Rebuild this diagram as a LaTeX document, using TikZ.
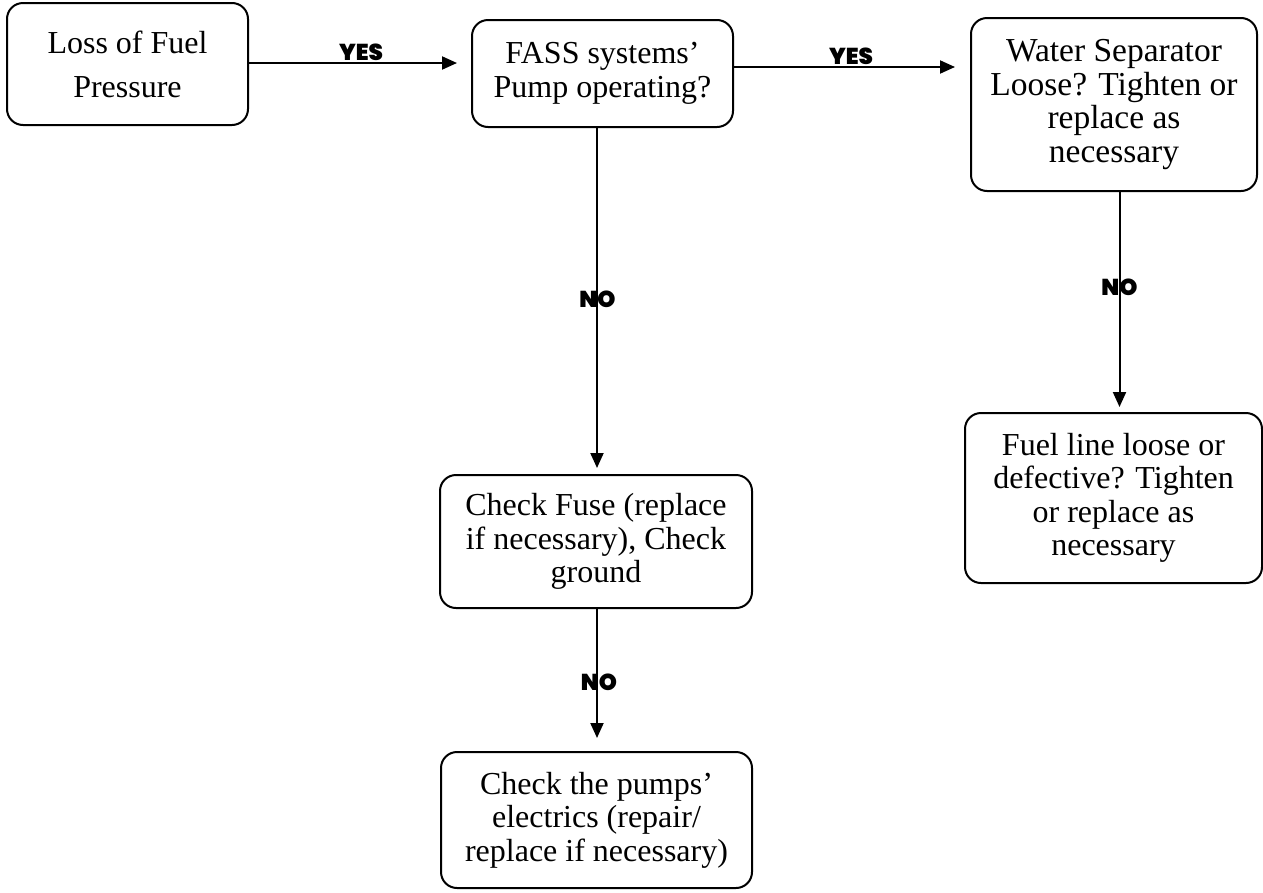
\documentclass[tikz,border=0pt]{standalone}
\usepackage{fontspec}
\setmainfont{Liberation Serif}
\newfontfamily\lab{Poppins Black}
\usetikzlibrary{arrows.meta}
\begin{document}
\begin{tikzpicture}[x=1pt,y=-1pt,
  box/.style={draw,line width=2pt,rounded corners=16pt,align=center,inner sep=0pt,
    font=\fontsize{32}{33.5}\selectfont},
  arr/.style={line width=2pt,-{Triangle[length=15pt,width=13pt]}},
  lbl/.style={font=\lab\fontsize{23}{23}\selectfont,inner sep=0pt}]
\useasboundingbox (0,0) rectangle (1263,892);
\node[box,minimum width=241pt,minimum height=122pt,font=\fontsize{32}{44}\selectfont] (n1) at (127.5,64) {Loss of Fuel\\Pressure};
\node[box,minimum width=261pt,minimum height=107pt] (n2) at (602.5,73.5) {FASS systems'\\Pump operating?};
\node[box,minimum width=286pt,minimum height=173pt,font=\fontsize{33.5}{33.5}\selectfont] (n3) at (1114,104.5) {Water Separator\\Loose? Tighten or\\replace as\\necessary};
\node[box,minimum width=312pt,minimum height=133pt] (n4) at (596,541.5) {Check Fuse (replace\\if necessary), Check\\ground};
\node[box,minimum width=311pt,minimum height=136pt] (n5) at (596.5,820) {Check the pumps'\\electrics (repair/\\replace if necessary)};
\node[box,minimum width=297pt,minimum height=170pt] (n6) at (1113.5,498) {Fuel line loose or\\defective? Tighten\\or replace as\\necessary};
\coordinate (c1) at (597,0);
\coordinate (c2) at (1119.5,0);
\draw[arr,shorten >=14pt] (n1.east |- 0,63) -- (n2.west |- 0,63);
\draw[arr,shorten >=15pt] (n2.east |- 0,67) -- (n3.west |- 0,67);
\draw[arr,shorten >=6pt] (n2.south -| c1) -- (n4.north -| c1);
\draw[arr,shorten >=5pt] (n3.south -| c2) -- (n6.north -| c2);
\draw[arr,shorten >=13pt] (n4.south -| c1) -- (n5.north -| c1);
\node[lbl] (y1) at (361,52) {YES};
\node[lbl] (y2) at (851,56) {YES};
\node[lbl] (no1) at (597.5,299) {NO};
\node[lbl] (no2) at (1119.5,287) {NO};
\node[lbl] (no3) at (599,682) {NO};
\end{tikzpicture}
\end{document}
